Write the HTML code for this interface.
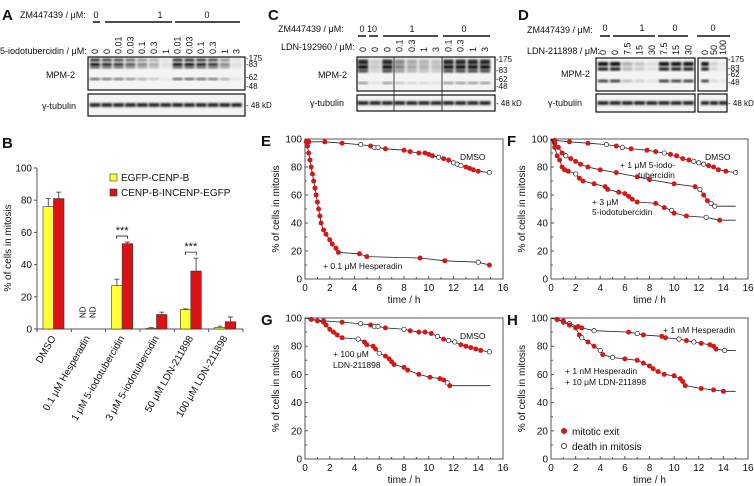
<!DOCTYPE html>
<html><head><meta charset="utf-8"><style>
body{margin:0;background:#fff}
svg{display:block;font-family:"Liberation Sans",sans-serif}
</style></head><body>
<svg id="fig" width="754" height="486" viewBox="0 0 754 486" xmlns="http://www.w3.org/2000/svg">
<defs><filter id="bl" x="-20%" y="-50%" width="140%" height="200%"><feGaussianBlur stdDeviation="1.1"/></filter></defs>
<g id="blots"></g>
<g id="barchart"></g>
<g id="curves"></g>
</svg>
<script>
// ---- Panel B data ----
const bCategories=["DMSO","0.1 μM Hesperadin","1 μM 5-iodotubercidin","3 μM 5-iodotubercidin","50 μM LDN-211898","100 μM LDN-211898"];
const bYellow=[76,null,27,0.5,12,1];
const bRed=[81,null,53,9,36,4.5];
const bYellowErr=[5,0,4,0.3,0.5,0.8];
const bRedErr=[4,0,1,1.5,8,3];
const bTicks=[0,20,40,60,80,100];
// ---- Survival curve data: [time h, % cells, type] type 1=mitotic exit, 0=death ----
const eDmso=[[0,100,1],[0.3,98,1],[1.6,98,1],[3,97,1],[4.5,96,0],[5.3,95,1],[5.6,94,0],[5.9,94,0],[6.5,93,1],[8,92,1],[8.5,91,1],[9.2,90,1],[9.7,90,1],[10,89,1],[10.3,88,1],[10.8,87,0],[11.2,86,1],[11.6,85,1],[12,83,0],[12.3,82,0],[12.6,81,0],[13,80,1],[13.3,79,1],[13.6,78,1],[14,77,1],[14.9,76,0]];
const eHesp=[[0,100,1],[0.1,98,1],[0.2,95,1],[0.3,90,1],[0.4,85,1],[0.5,80,1],[0.6,75,1],[0.7,70,1],[0.8,65,1],[0.9,60,1],[1.0,55,1],[1.1,50,1],[1.2,45,1],[1.3,40,1],[1.5,35,1],[1.7,32,1],[2.0,28,1],[2.2,25,1],[2.5,22,1],[2.7,19,1],[4.4,18,1],[5,16,1],[9.3,15,1],[11.3,13,1],[14,12,0],[14.9,10,1]];
const fDmso=[[0,100,1],[0.3,99,1],[1.5,98,1],[3,97,1],[4.5,96,0],[5.3,95,1],[5.8,94,0],[6.5,93,1],[7.8,92,1],[8.5,91,1],[9.2,90,0],[9.7,89,1],[10.2,88,1],[10.7,86,1],[11.2,85,1],[11.6,84,0],[12,83,0],[12.4,82,0],[12.8,81,1],[13.2,80,1],[13.6,78,1],[14.2,77,1],[15,76,0]];
const fIodo1=[[0,100,1],[0.3,97,1],[0.6,94,1],[0.9,90,1],[1.2,88,0],[1.6,86,1],[2,84,1],[2.4,82,1],[3,80,1],[4,78,1],[5.3,76,1],[7,73,1],[8,71,1],[10,68,1],[11.7,66,1],[12.1,64,0],[12.4,60,1],[12.7,56,1],[13,54,0],[13.3,52,0],[15,52,-1]];
const fIodo3=[[0,100,1],[0.3,94,1],[0.5,88,1],[0.7,85,1],[0.9,80,1],[1.1,78,1],[1.4,77,1],[2,75,0],[2.3,72,1],[2.6,70,1],[3.5,68,1],[4.4,66,1],[4.6,64,1],[5.5,62,1],[6,61,1],[6.3,59,1],[6.6,57,1],[7,55,1],[8.5,54,1],[9.2,51,1],[9.8,49,0],[10,47,1],[11,45,1],[12.6,44,0],[13.7,42,1],[15,42,-1]];
const gDmso=[[0.2,100,0],[0.5,99,1],[1.5,98,1],[3,97,1],[4.5,96,0],[5.3,95,1],[5.6,94,0],[5.9,94,0],[6.5,93,1],[8,92,0],[8.5,91,1],[9.2,90,1],[9.7,90,1],[10.2,89,1],[10.7,87,0],[11.2,85,1],[11.6,84,0],[12.1,83,0],[12.6,81,1],[13,80,1],[13.4,79,1],[13.8,78,1],[14.2,77,1],[14.9,76,0]];
const gLdn=[[0,100,1],[0.5,99,1],[1,98,1],[1.5,97,1],[1.7,95,1],[2,92,1],[2.3,90,1],[2.6,88,1],[3,86,1],[4.3,85,0],[4.8,83,1],[5,81,1],[5.5,80,1],[5.7,78,1],[6,75,0],[6.5,73,1],[6.8,71,1],[7,69,1],[7.2,67,1],[8,65,1],[8.3,63,1],[9.2,60,1],[10.1,58,1],[10.9,57,1],[11.2,56,1],[11.5,54,0],[11.7,52,1],[15,52,-1]];
const hHesp=[[0,100,1],[0.5,99,0],[1,98,1],[1.5,96,0],[2.2,94,1],[2.5,93,1],[3.5,91,0],[6.3,90,1],[7,89,0],[7.5,88,1],[9,87,1],[9.3,86,1],[10.4,85,0],[11,84,1],[11.6,83,0],[12.2,82,1],[12.9,81,1],[13.2,80,1],[13.4,78,1],[14.1,77,0],[15,77,-1]];
const hCombo=[[0,100,1],[0.5,99,1],[1,97,1],[1.5,95,1],[2,93,1],[2.3,88,1],[2.5,86,0],[3,83,1],[3.5,80,1],[4,77,0],[4.2,74,1],[5,72,0],[6,71,1],[7,70,1],[7.5,68,1],[8,66,1],[8.3,64,1],[8.7,62,1],[9.2,60,1],[10,59,1],[10.5,57,1],[10.7,55,1],[10.9,52,1],[12.2,50,1],[13.2,49,1],[14,48,1],[15,48,-1]];
const timeTicks=[0,2,4,6,8,10,12,14,16];
const pctTicks=[0,20,40,60,80,100];
// blot lane intensities
const aLanes=[1,.9,.85,.7,.5,.35,.1,1,1,.95,.85,.5,.1];
const cLanes=[1,.2,1,.5,.35,.3,.25,1,1,1,1];
const dLanes1=[1,1,.3,.2,.1,1,1,1];
const dLanes2=[1,.15,.05];

const NS="http://www.w3.org/2000/svg";
function mk(tag,attrs,parent,txt){const e=document.createElementNS(NS,tag);for(const k in attrs)e.setAttribute(k,attrs[k]);if(txt!==undefined)e.textContent=txt;parent.appendChild(e);return e;}
function text(parent,x,y,s,size,anchor,name,extra){const t=mk('text',Object.assign({x:x,y:y,'font-size':size,'text-anchor':anchor||'start',fill:'#111'},extra||{}),parent,s);


return t;}

// ===== Blots =====
const blots=document.getElementById('blots');
function blotBox(x,y,w,h,name){const r=mk('rect',{x:x,y:y,width:w,height:h,fill:'#f4f4f4',stroke:'#111','stroke-width':1.2},blots);

}
function lanesDraw(x0,dx,lanes,bands,tubY){lanes.forEach((v,i)=>{const cx=x0+i*dx;bands.forEach(b=>{const o=Math.max(0.05,Math.min(1,v*b[1]));const r=mk('rect',{x:cx-dx*0.42,y:b[0]-b[2]/2,width:dx*0.84,height:b[2],fill:'#000',opacity:o,filter:'url(#bl)'},blots);

});
const t=mk('rect',{x:cx-dx*0.45,y:tubY-1.8,width:dx*0.9,height:3.6,fill:'#000',opacity:0.9,filter:'url(#bl)'},blots);

});}
function markers(x,ys,labels,tubY){labels.forEach((l,i)=>{text(blots,x,ys[i]+3,'-'+l,8,'start','mw-marker');});text(blots,x,tubY+3,'- 48 kD',8,'start','mw-marker');}
// A
text(blots,2,20,'A',15,'start','panel-label-a',{'font-weight':'bold'});
blotBox(88,57,157,33,'blot-a-mpm2');blotBox(88,94,157,22,'blot-a-tubulin');
lanesDraw(95,11.8,aLanes,[[60,.95,2.5],[64.5,1,3],[67.5,.7,2],[79,.7,2]],105);
text(blots,20,18,'ZM447439 / μM:',9,'start','zm-label-a');
text(blots,96,18,'0',9,'middle','zm-a-0');text(blots,160,18,'1',9,'middle','zm-a-1');text(blots,207,18,'0',9,'middle','zm-a-0b');
[[93,100],[105,172],[175,240]].forEach(s=>{const l=mk('line',{x1:s[0],x2:s[1],y1:22,y2:22,stroke:'#111','stroke-width':1.5},blots);});
text(blots,0,54,'5-iodotubercidin / μM:',9,'start','iodo-label-a');
["0","0","0.01","0.03","0.1","0.3","1","0.01","0.03","0.1","0.3","1","3"].forEach((s,i)=>{text(blots,95+i*11.8+3,54,s,9,'start','lane-label-a',{transform:`rotate(-90 ${95+i*11.8+3} 54)`});});
text(blots,46,78,'MPM-2',9,'start','mpm2-label-a');text(blots,42,109,'γ-tubulin',9,'start','tubulin-label-a');
markers(246,[58,64,77,86],['175','83','62','48'],105);
// C
text(blots,268,20,'C',15,'start','panel-label-c',{'font-weight':'bold'});
blotBox(357,57,138,34,'blot-c-mpm2');blotBox(357,95,138,16,'blot-c-tubulin');
lanesDraw(363,12.2,cLanes,[[62,.85,5],[67,.95,4],[71,.75,3],[83,.45,2]],103);
[394,442].forEach(x=>{const l=mk('line',{x1:x,x2:x,y1:57,y2:111,stroke:'#111','stroke-width':0.8},blots);});
text(blots,278,32,'ZM447439 / μM:',9,'start','zm-label-c');
text(blots,362,32,'0',9,'middle','zm-c');text(blots,372,32,'10',9,'middle','zm-c');text(blots,412,32,'1',9,'middle','zm-c');text(blots,464,32,'0',9,'middle','zm-c');
[[358,366],[369,378],[383,438],[443,490]].forEach(s=>{const l=mk('line',{x1:s[0],x2:s[1],y1:36,y2:36,stroke:'#111','stroke-width':1.5},blots);});
text(blots,281,50,'LDN-192960 / μM:',9,'start','ldn-label-c');
["0","0","0","0.1","0.3","1","3","0.1","0.3","1","3"].forEach((s,i)=>{text(blots,363+i*12.2+3,52,s,9,'start','lane-label-c',{transform:`rotate(-90 ${363+i*12.2+3} 52)`});});
text(blots,318,78,'MPM-2',9,'start','mpm2-label-c');text(blots,310,106,'γ-tubulin',9,'start','tubulin-label-c');
markers(496,[59,70,79,86],['175','83','62','48'],103);
// D
text(blots,518,20,'D',15,'start','panel-label-d',{'font-weight':'bold'});
blotBox(596,58,99,33,'blot-d-mpm2');blotBox(596,94,99,18,'blot-d-tubulin');
blotBox(698,58,29,33,'blot-d-mpm2-b');blotBox(698,94,29,18,'blot-d-tubulin-b');
lanesDraw(603,12.2,dLanes1,[[64,.95,4],[69,.95,3],[81,.85,2.5]],103);
lanesDraw(705,9,dLanes2,[[64,.95,4],[69,.95,3],[81,.85,2.5]],103);
text(blots,527,33,'ZM447439 / μM:',9,'start','zm-label-d');
text(blots,605,31,'0',9,'middle','zm-d');text(blots,642,31,'1',9,'middle','zm-d');text(blots,675,31,'0',9,'middle','zm-d');text(blots,713,31,'0',9,'middle','zm-d');
[[600,610],[613,655],[658,688],[697,730]].forEach(s=>{const l=mk('line',{x1:s[0],x2:s[1],y1:36,y2:36,stroke:'#111','stroke-width':1.5},blots);});
text(blots,527,54,'LDN-211898 / μM:',9,'start','ldn-label-d');
["0","0","7.5","15","30","7.5","15","30"].forEach((s,i)=>{text(blots,603+i*12.2+3,55,s,9,'start','lane-label-d',{transform:`rotate(-90 ${603+i*12.2+3} 55)`});});
["0","50","100"].forEach((s,i)=>{text(blots,705+i*9+3,55,s,9,'start','lane-label-d',{transform:`rotate(-90 ${705+i*9+3} 55)`});});
text(blots,561,77,'MPM-2',9,'start','mpm2-label-d');text(blots,548,106,'γ-tubulin',9,'start','tubulin-label-d');
markers(728,[59,68,74,82],['175','83','62','48'],103);

// ===== Bar chart B =====
const bc=document.getElementById('barchart');
const bx0=37,bx1=243,by0=329,by100=168;
const byS=v=>by0-(by0-by100)*v/100;
const cw=(bx1-bx0)/bCategories.length;
text(bc,2,148,'B',15,'start','panel-label-b',{'font-weight':'bold'});
const bax=mk('path',{d:`M${bx0},${by100}V${by0}H${bx1}`,fill:'none',stroke:'#555','stroke-width':1},bc);


bTicks.forEach(v=>{const y=byS(v);const l=mk('line',{x1:bx0-3,x2:bx0,y1:y,y2:y,stroke:'#555'},bc);text(bc,bx0-5,y+3.5,String(v),10,'end','y-tick-label');});
for(let i=0;i<=bCategories.length;i++){const x=bx0+i*cw;const l=mk('line',{x1:x,x2:x,y1:by0,y2:by0+3,stroke:'#555'},bc);}
text(bc,11,248,'% of cells in mitosis',10,'middle','y-axis-title',{transform:'rotate(-90 11 248)'});
function bar(x,w,v,e,col,name){if(v===null)return;const y=byS(v);const r=mk('rect',{x:x,y:y,width:w,height:by0-y,fill:col,stroke:'#333','stroke-width':0.6},bc);


const ye=byS(v+e);const p=mk('path',{d:`M${x+w/2},${y}V${ye}M${x+w/2-2.5},${ye}H${x+w/2+2.5}`,stroke:'#333','stroke-width':0.8,fill:'none'},bc);

}
bCategories.forEach((c,i)=>{const cx=bx0+i*cw;const w=10.5;
bar(cx+6,w,bYellow[i],bYellowErr[i],'#ffff33','bar-egfp-cenp-b');
bar(cx+6+w,w,bRed[i],bRedErr[i],'#dd1111','bar-cenp-b-incenp');
if(bYellow[i]===null){text(bc,cx+14,318,'ND',8,'start','nd-label',{transform:`rotate(-90 ${cx+14} 318)`});text(bc,cx+24,318,'ND',8,'start','nd-label',{transform:`rotate(-90 ${cx+24} 318)`});}
const lx=cx+cw/2+2;text(bc,lx,338,c,10,'end','x-category-label',{transform:`rotate(-60 ${lx} 338)`});});
[2,4].forEach(i=>{const cx=bx0+i*cw+6;const top=byS(Math.max(bRed[i]+bRedErr[i],bYellow[i]+bYellowErr[i]))-6;
const p=mk('path',{d:`M${cx+5},${top+3}V${top}H${cx+16}V${top+3}`,fill:'none',stroke:'#222','stroke-width':0.8},bc);
text(bc,cx+10.5,top-2,'***',11,'middle','significance-stars');});
const lg1=mk('rect',{x:110,y:174,width:7,height:7,fill:'#ffff33',stroke:'#333','stroke-width':0.6},bc);
text(bc,121,181,'EGFP-CENP-B',10,'start','legend-entry-egfp');
const lg2=mk('rect',{x:110,y:189,width:7,height:7,fill:'#dd1111',stroke:'#333','stroke-width':0.6},bc);
text(bc,121,196,'CENP-B-INCENP-EGFP',10,'start','legend-entry-cenp');

// ===== Survival curves =====
const cv=document.getElementById('curves');
function panel(letter,x0,x1,y0,y100,series,labels){
 const g=mk('g',{},cv);
 
 
 const xs=t=>x0+(x1-x0)*t/16, ys=v=>y0-(y0-y100)*v/100;
 const box=mk('rect',{x:x0,y:y100,width:x1-x0,height:y0-y100,fill:'none',stroke:'#555','stroke-width':1},g);
 
 
 text(g,x0-44,y100+7,letter,15,'start','panel-label-'+letter.toLowerCase(),{'font-weight':'bold'});
 pctTicks.forEach(v=>{const y=ys(v);const l=mk('line',{x1:x0,x2:x0+3,y1:y,y2:y,stroke:'#555'},g);
  if(v<100){const m=mk('line',{x1:x0,x2:x0+2,y1:ys(v+10),y2:ys(v+10),stroke:'#555'},g);}
  text(g,x0-3,y+3.5,String(v),10,'end','y-tick-label');});
 timeTicks.forEach(t=>{const x=xs(t);const l=mk('line',{x1:x,x2:x,y1:y0,y2:y0-3,stroke:'#555'},g);
  if(t<16){const m=mk('line',{x1:xs(t+1),x2:xs(t+1),y1:y0,y2:y0-2,stroke:'#555'},g);}
  text(g,x,y0+12,String(t),10,'middle','x-tick-label');});
 text(g,(x0+x1)/2,y0+24,'time / h',10,'middle','x-axis-title');
 const ty=(y0+y100)/2;text(g,x0-26,ty,'% of cells in mitosis',10,'middle','y-axis-title',{transform:`rotate(-90 ${x0-26} ${ty})`});
 series.forEach(s=>{const pl=mk('polyline',{points:s.map(p=>xs(p[0])+','+ys(p[1])).join(' '),fill:'none',stroke:'#222','stroke-width':0.8},g);
  
  
  s.forEach((p,i)=>{if(i===0||p[2]<0)return;const c=mk('circle',{cx:xs(p[0]),cy:ys(p[1]),r:p[2]?2.5:2.2,fill:p[2]?'#d41818':'#fff',stroke:p[2]?'none':'#222','stroke-width':0.7},g);
   
   });});
 labels.forEach(l=>text(g,l[0],l[1],l[2],8.5,'start','series-label'));
 return g;}
panel('E',305,503,279,139,[eDmso,eHesp],[[460,160,'DMSO'],[323,269,'+ 0.1 μM Hesperadin']]);
panel('F',551,748,279,139,[fDmso,fIodo1,fIodo3],[[705,160,'DMSO'],[620,168,'+ 1 μM 5-iodo-'],[638,178,'tubercidin'],[592,205,'+ 3 μM'],[592,215,'5-iodotubercidin']]);
panel('G',305,503,459,318,[gDmso,gLdn],[[460,339,'DMSO'],[333,357,'+ 100 μM'],[333,368,'LDN-211898']]);
const gh=panel('H',551,748,459,318,[hHesp,hCombo],[[663,333,'+ 1 nM Hesperadin'],[565,374,'+ 1 nM Hesperadin'],[565,385,'+ 10 μM LDN-211898']]);
const le1=mk('circle',{cx:564,cy:431,r:3,fill:'#d41818'},gh);
text(gh,572,435,'mitotic exit',10,'start','legend-entry-mitotic-exit');
const le2=mk('circle',{cx:564,cy:446,r:2.6,fill:'#fff',stroke:'#222','stroke-width':0.8},gh);
text(gh,572,450,'death in mitosis',10,'start','legend-entry-death');
</script>
</body></html>
